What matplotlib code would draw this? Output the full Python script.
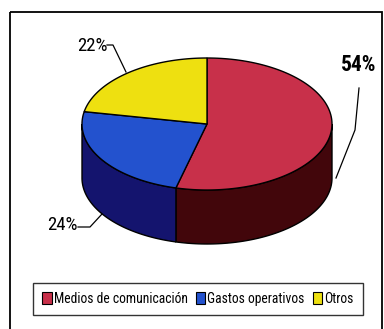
import numpy as np
import matplotlib
matplotlib.use("Agg")
import matplotlib.pyplot as plt
from matplotlib.patches import Polygon, Patch, Rectangle
from matplotlib import font_manager

categories = ["Medios de comunicación", "Gastos operativos", "Otros"]
values = [54, 24, 22]
labels = ["54%", "24%", "22%"]
top_colors = ["#C8304A", "#2352CE", "#EEE010"]
side_colors = ["#42060B", "#14146E", "#8A8500"]

names = {f.name for f in font_manager.fontManager.ttflist}
narrow = "DejaVu Sans"
for cand in ["Liberation Sans Narrow", "Roboto Condensed", "Open Sans Condensed"]:
    if cand in names:
        narrow = cand
        break
stretch = "condensed"

W, H = 384, 329
fig = plt.figure(figsize=(W / 100, H / 100), dpi=100)
fig.patch.set_facecolor("white")
ax = fig.add_axes([0, 0, 1, 1])
ax.set_xlim(0, W)
ax.set_ylim(H, 0)
ax.axis("off")

# outer frame
ax.add_patch(Rectangle((10, 12), 372, 330, fill=False, ec="black", lw=1.3))

cx, cy, a, b, depth = 207, 124, 125, 66, 54

def pt(theta):
    return cx + a * np.cos(theta), cy - b * np.sin(theta)

# slice angles: start at top, go clockwise
total = sum(values)
start = np.pi / 2
ranges = []
for v in values:
    sweep = 2 * np.pi * v / total
    ranges.append((start - sweep, start))
    start -= sweep

# sides (front half)
for (t0, t1), sc in zip(ranges, side_colors):
    for shift in (0, 2 * np.pi, -2 * np.pi):
        lo, hi = max(t0 + shift, np.pi), min(t1 + shift, 2 * np.pi)
        if hi > lo:
            th = np.linspace(lo, hi, 80)
            xs, ys = pt(th)
            poly = list(zip(xs, ys)) + list(zip(xs[::-1], ys[::-1] + depth))
            ax.add_patch(Polygon(poly, closed=True, fc=sc, ec="black", lw=1.0, zorder=2))

# top faces
for (t0, t1), tc in zip(ranges, top_colors):
    th = np.linspace(t0, t1, 120)
    xs, ys = pt(th)
    poly = [(cx, cy)] + list(zip(xs, ys))
    ax.add_patch(Polygon(poly, closed=True, fc=tc, ec="black", lw=1.0, zorder=3))

# labels with leader lines
ax.text(359, 65, labels[0], fontsize=15.5, fontweight="bold", family=narrow,
        fontstretch=stretch, ha="center", va="center", zorder=5)
ax.plot([359, 355, 336], [88, 130, 178], color="black", lw=0.9, zorder=4)

ax.text(62, 225, labels[1], fontsize=13.5, family=narrow, fontstretch=stretch,
        ha="center", va="center", zorder=5)
ax.plot([78, 90, 102], [227, 227, 214], color="black", lw=0.9, zorder=4)

ax.text(92, 46, labels[2], fontsize=13.5, family=narrow, fontstretch=stretch,
        ha="center", va="center", zorder=5)
ax.plot([107, 113, 126], [45, 45, 72], color="black", lw=0.9, zorder=4)

# legend
handles = [Patch(fc=c, ec="black", lw=0.8) for c in top_colors]
leg = ax.legend(handles, categories, loc="center", bbox_to_anchor=(198 / W, 1 - 299 / H),
                bbox_transform=fig.transFigure, ncol=3, frameon=True, fancybox=False,
                edgecolor="black", handlelength=0.7, handleheight=1.0, handletextpad=0.15,
                columnspacing=0.6, borderpad=0.65,
                prop={"family": narrow, "size": 9.8, "stretch": stretch})
leg.get_frame().set_linewidth(1.0)

fig.savefig("out.png", dpi=100, facecolor="white")
